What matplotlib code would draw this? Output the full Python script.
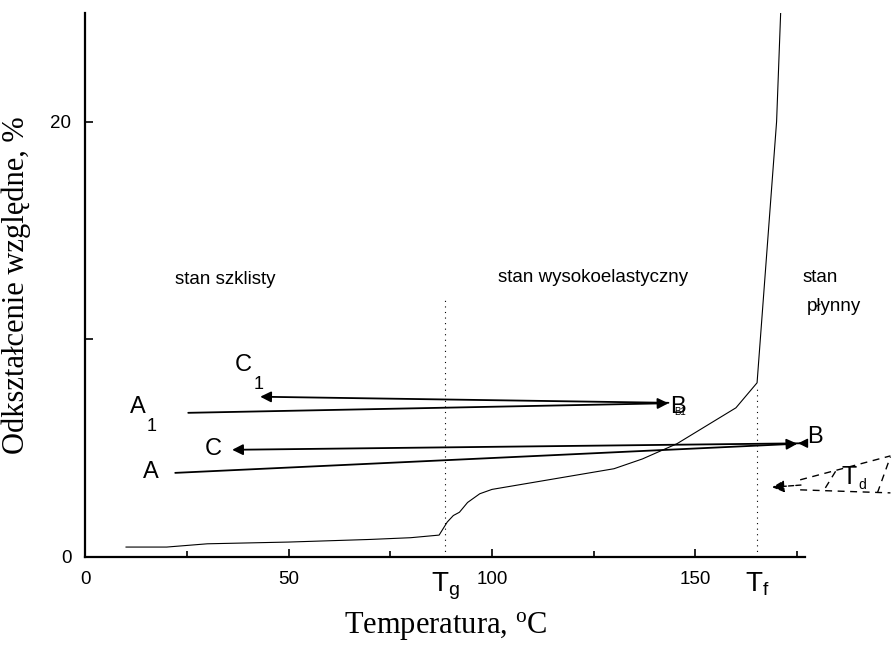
import matplotlib
matplotlib.use("Agg")
import matplotlib.pyplot as plt

# krzywa termomechaniczna
temp = [10, 20, 30, 50, 70, 80, 87, 89, 90.5, 92, 94, 97, 100, 130, 137, 145.5, 160, 165.2, 170, 171]
strain = [0.45, 0.45, 0.6, 0.68, 0.8, 0.88, 1.0, 1.6, 1.9, 2.05, 2.5, 2.9, 3.1, 4.05, 4.5, 5.2, 6.85, 8.0, 20, 25]

Tg = 88.5
Tf = 165.3
Tg_top = 12.0
Tf_top = 7.9

# strzalki (start x, start y, koniec x, koniec y)
arr_AB = (22.1, 3.86, 175.1, 5.2)
arr_BC = (176.5, 5.22, 36.1, 4.92)
arr_A1B1 = (25.3, 6.62, 143.4, 7.06)
arr_B1C1 = (143.4, 7.08, 43.0, 7.36)

# konstrukcja T_d (linie przerywane)
td_upper = ([175.8, 198.0], [3.54, 4.64])
td_lower = ([175.8, 198.0], [3.08, 2.94])
td_slash1 = ([182.0, 185.2], [3.17, 4.14])
td_slash2 = ([194.8, 198.0], [2.94, 4.6])
td_arrow = (176.0, 3.3, 168.9, 3.2)

sans = "Liberation Sans"
serif = "Liberation Serif"

fig = plt.figure(figsize=(8.94, 6.46), dpi=100)
ax = fig.add_axes([0.0955, 0.138, 0.805, 0.842])

ax.plot(temp, strain, color="black", lw=0.8)
ax.plot([Tg, Tg], [0, Tg_top], color="black", lw=0.8, ls=(0, (1, 4)))
ax.plot([Tf, Tf], [0, Tf_top], color="black", lw=0.8, ls=(0, (1, 4)))

def arrow(a, lw=1.3):
    ax.annotate("", xy=(a[2], a[3]), xytext=(a[0], a[1]),
                arrowprops=dict(arrowstyle="-|>", color="black", lw=lw,
                                mutation_scale=16, shrinkA=0, shrinkB=0),
                annotation_clip=False)

arrow(arr_AB)
arrow(arr_BC)
arrow(arr_A1B1)
arrow(arr_B1C1)
# maly grot przy B
ax.annotate("", xy=(175.3, 5.22), xytext=(177.5, 5.22),
            arrowprops=dict(arrowstyle="-|>", color="black", lw=1.0,
                            mutation_scale=14, shrinkA=0, shrinkB=0),
            annotation_clip=False)

for xs, ys in [td_upper, td_lower, td_slash1, td_slash2]:
    ax.plot(xs, ys, color="black", lw=1.0, ls=(0, (5, 4)), clip_on=False)
ax.annotate("", xy=(td_arrow[2], td_arrow[3]), xytext=(td_arrow[0], td_arrow[1]),
            arrowprops=dict(arrowstyle="-|>", color="black", lw=1.0, ls="--",
                            mutation_scale=18, shrinkA=0, shrinkB=0),
            annotation_clip=False)
ax.text(186.0, 3.65, "T", fontsize=18, family=sans, ha="left", va="center")
ax.text(190.0, 3.3, "d", fontsize=10, family=sans, ha="left", va="center")

# litery
ax.text(16, 3.9, "A", fontsize=17, family=sans, ha="center", va="center")
ax.text(13, 6.9, "A", fontsize=17, family=sans, ha="center", va="center")
ax.text(16.3, 6.0, "1", fontsize=13, family=sans, ha="center", va="center")
ax.text(31.5, 4.95, "C", fontsize=17, family=sans, ha="center", va="center")
ax.text(38.8, 8.8, "C", fontsize=17, family=sans, ha="center", va="center")
ax.text(42.5, 7.9, "1", fontsize=13, family=sans, ha="center", va="center")
ax.text(179.5, 5.5, "B", fontsize=17, family=sans, ha="center", va="center")
ax.text(145.8, 6.9, "B", fontsize=17, family=sans, ha="center", va="center")
ax.text(146.3, 6.65, "B1", fontsize=7, family=sans, ha="center", va="center")

ax.text(34.5, 12.75, "stan szklisty", fontsize=13.5, family=sans, ha="center", va="center")
ax.text(101.5, 12.85, "stan wysokoelastyczny", fontsize=13.5, family=sans, ha="left", va="center")
ax.text(176.5, 12.85, "stan", fontsize=13.5, family=sans, ha="left", va="center")
ax.text(177.5, 11.5, "płynny", fontsize=13.5, family=sans, ha="left", va="center")

ax.set_xlim(0, 177)
ax.set_ylim(0, 25)
ax.spines["top"].set_visible(False)
ax.spines["right"].set_visible(False)
ax.spines["left"].set_linewidth(1.6)
ax.spines["bottom"].set_linewidth(1.6)

ax.set_xticks([0, 50, 100, 150, Tg, Tf])
ax.set_xticklabels(["0", "50", "100", "150", "$\\mathregular{T_g}$", "$\\mathregular{T_f}$"])
ax.set_xticks([25, 75, 125, 175], minor=True)
ax.set_yticks([0, 10, 20])
ax.set_yticklabels(["0", "", "20"])
ax.tick_params(axis="both", which="major", direction="in", length=6, width=1.2,
               labelsize=13.5, pad=10)
ax.tick_params(axis="x", which="minor", direction="in", length=4, width=1.2)
for lab in ax.get_xticklabels() + ax.get_yticklabels():
    lab.set_family(sans)
labs = ax.get_xticklabels()
labs[4].set_fontsize(20)
labs[5].set_fontsize(20)
# kreski Tg/Tf bez znacznikow
for t in ax.xaxis.get_major_ticks()[4:]:
    t.tick1line.set_visible(False)

ax.set_xlabel("Temperatura, $\\mathregular{^o}$C", family=serif, fontsize=22, labelpad=6)
ax.set_ylabel("Odkształcenie względne, %", family=serif, fontsize=22, labelpad=14)

fig.savefig("out.png", dpi=100)
